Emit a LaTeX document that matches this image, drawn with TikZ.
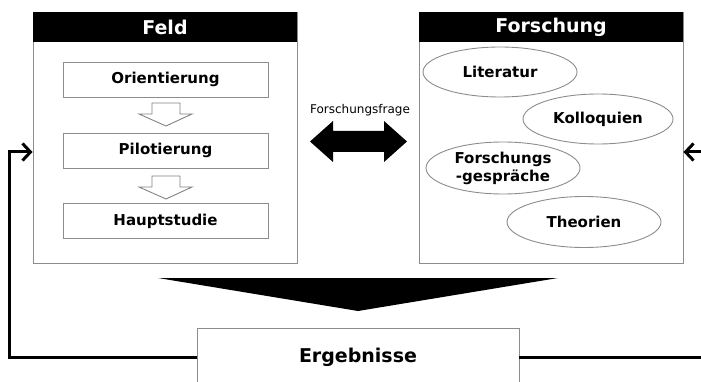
\documentclass[tikz,border=0pt]{standalone}
\usepackage{fontspec}
\setmainfont{DejaVu Sans}
\usetikzlibrary{shapes,arrows.meta}
\tikzset{frame/.style = {draw=black!45, line width=.9pt, inner sep=0pt},
  header/.style = {fill=black, text=white, inner sep=0pt, font=\fontsize{19}{22}\selectfont\bfseries},
  phase/.style = {frame, minimum width=205, minimum height=35, font=\fontsize{15}{18}\selectfont\bfseries},
  topic/.style = {frame, ellipse, align=center, font=\fontsize{15}{18}\selectfont\bfseries},
  back/.style = {line width=3pt, -{Straight Barb[length=8pt,width=17pt,line width=3pt]}}}

\begin{document}
\begin{tikzpicture}[x=1pt, y=-1pt]
      \useasboundingbox (0,0) rectangle (701,382);
      \clip (0,0) rectangle (701,382);
      % Feld
      \node [frame, minimum width=264, minimum height=251] (feld) at (165,137.5) {};
      \node [header, minimum width=264, minimum height=30] (feldhead) at (165,27) {Feld};
      \node [phase] (orient) at (165.5,79.5) {Orientierung};
      \node [phase] (pilot) at (165.5,150.5) {Pilotierung};
      \node [phase] (haupt) at (165.5,221) {Hauptstudie};
      \foreach \t in {103,176}
        \draw [black!50, line width=.9pt, fill=white]
        (152,\t) -- (180,\t) -- (180,\t+11) -- (192,\t+11) -- (166,\t+23)
        -- (139,\t+11) -- (152,\t+11) -- cycle;
      % Forschung
      \node [frame, minimum width=264, minimum height=251] (forsch) at (551,137.5) {};
      \node [header, minimum width=264, minimum height=30] (forschhead) at (551,27) {Forschung};
      \node [topic, minimum width=154, minimum height=50] (lit) at (500,72) {Literatur};
      \node [topic, minimum width=150, minimum height=50] (koll) at (598,119) {Kolloquien};
      \node [topic, minimum width=154, minimum height=52] (gespr) at (503,168) {Forschungs\\-gespräche};
      \node [topic, minimum width=154, minimum height=51] (theo) at (584,222) {Theorien};
      % Forschungsfrage
      \node [font=\fontsize{12}{14}\selectfont] (frage) at (360,110) {Forschungsfrage};
      \fill (310,141.5) -- (333,121) -- (333,131) -- (384,131) -- (384,121) -- (407,141.5)
        -- (384,162) -- (384,152) -- (333,152) -- (333,162) -- cycle;
      % Ergebnisse
      \fill (158,278) -- (558,278) -- (358,311) -- cycle;
      \node [frame, fill=white, minimum width=322, minimum height=58,
        font=\fontsize{19}{22}\selectfont\bfseries] (ergeb) at (358,357) {Ergebnisse};
      \coordinate (retL) at (9,152);
      \coordinate (retR) at (705,152);
      \draw [back] (ergeb.west) -| (retL) -- (retL -| feld.west);
      \draw [back] (ergeb.east) -| (retR) -- (retR -| forsch.east);
    \end{tikzpicture}
\end{document}
